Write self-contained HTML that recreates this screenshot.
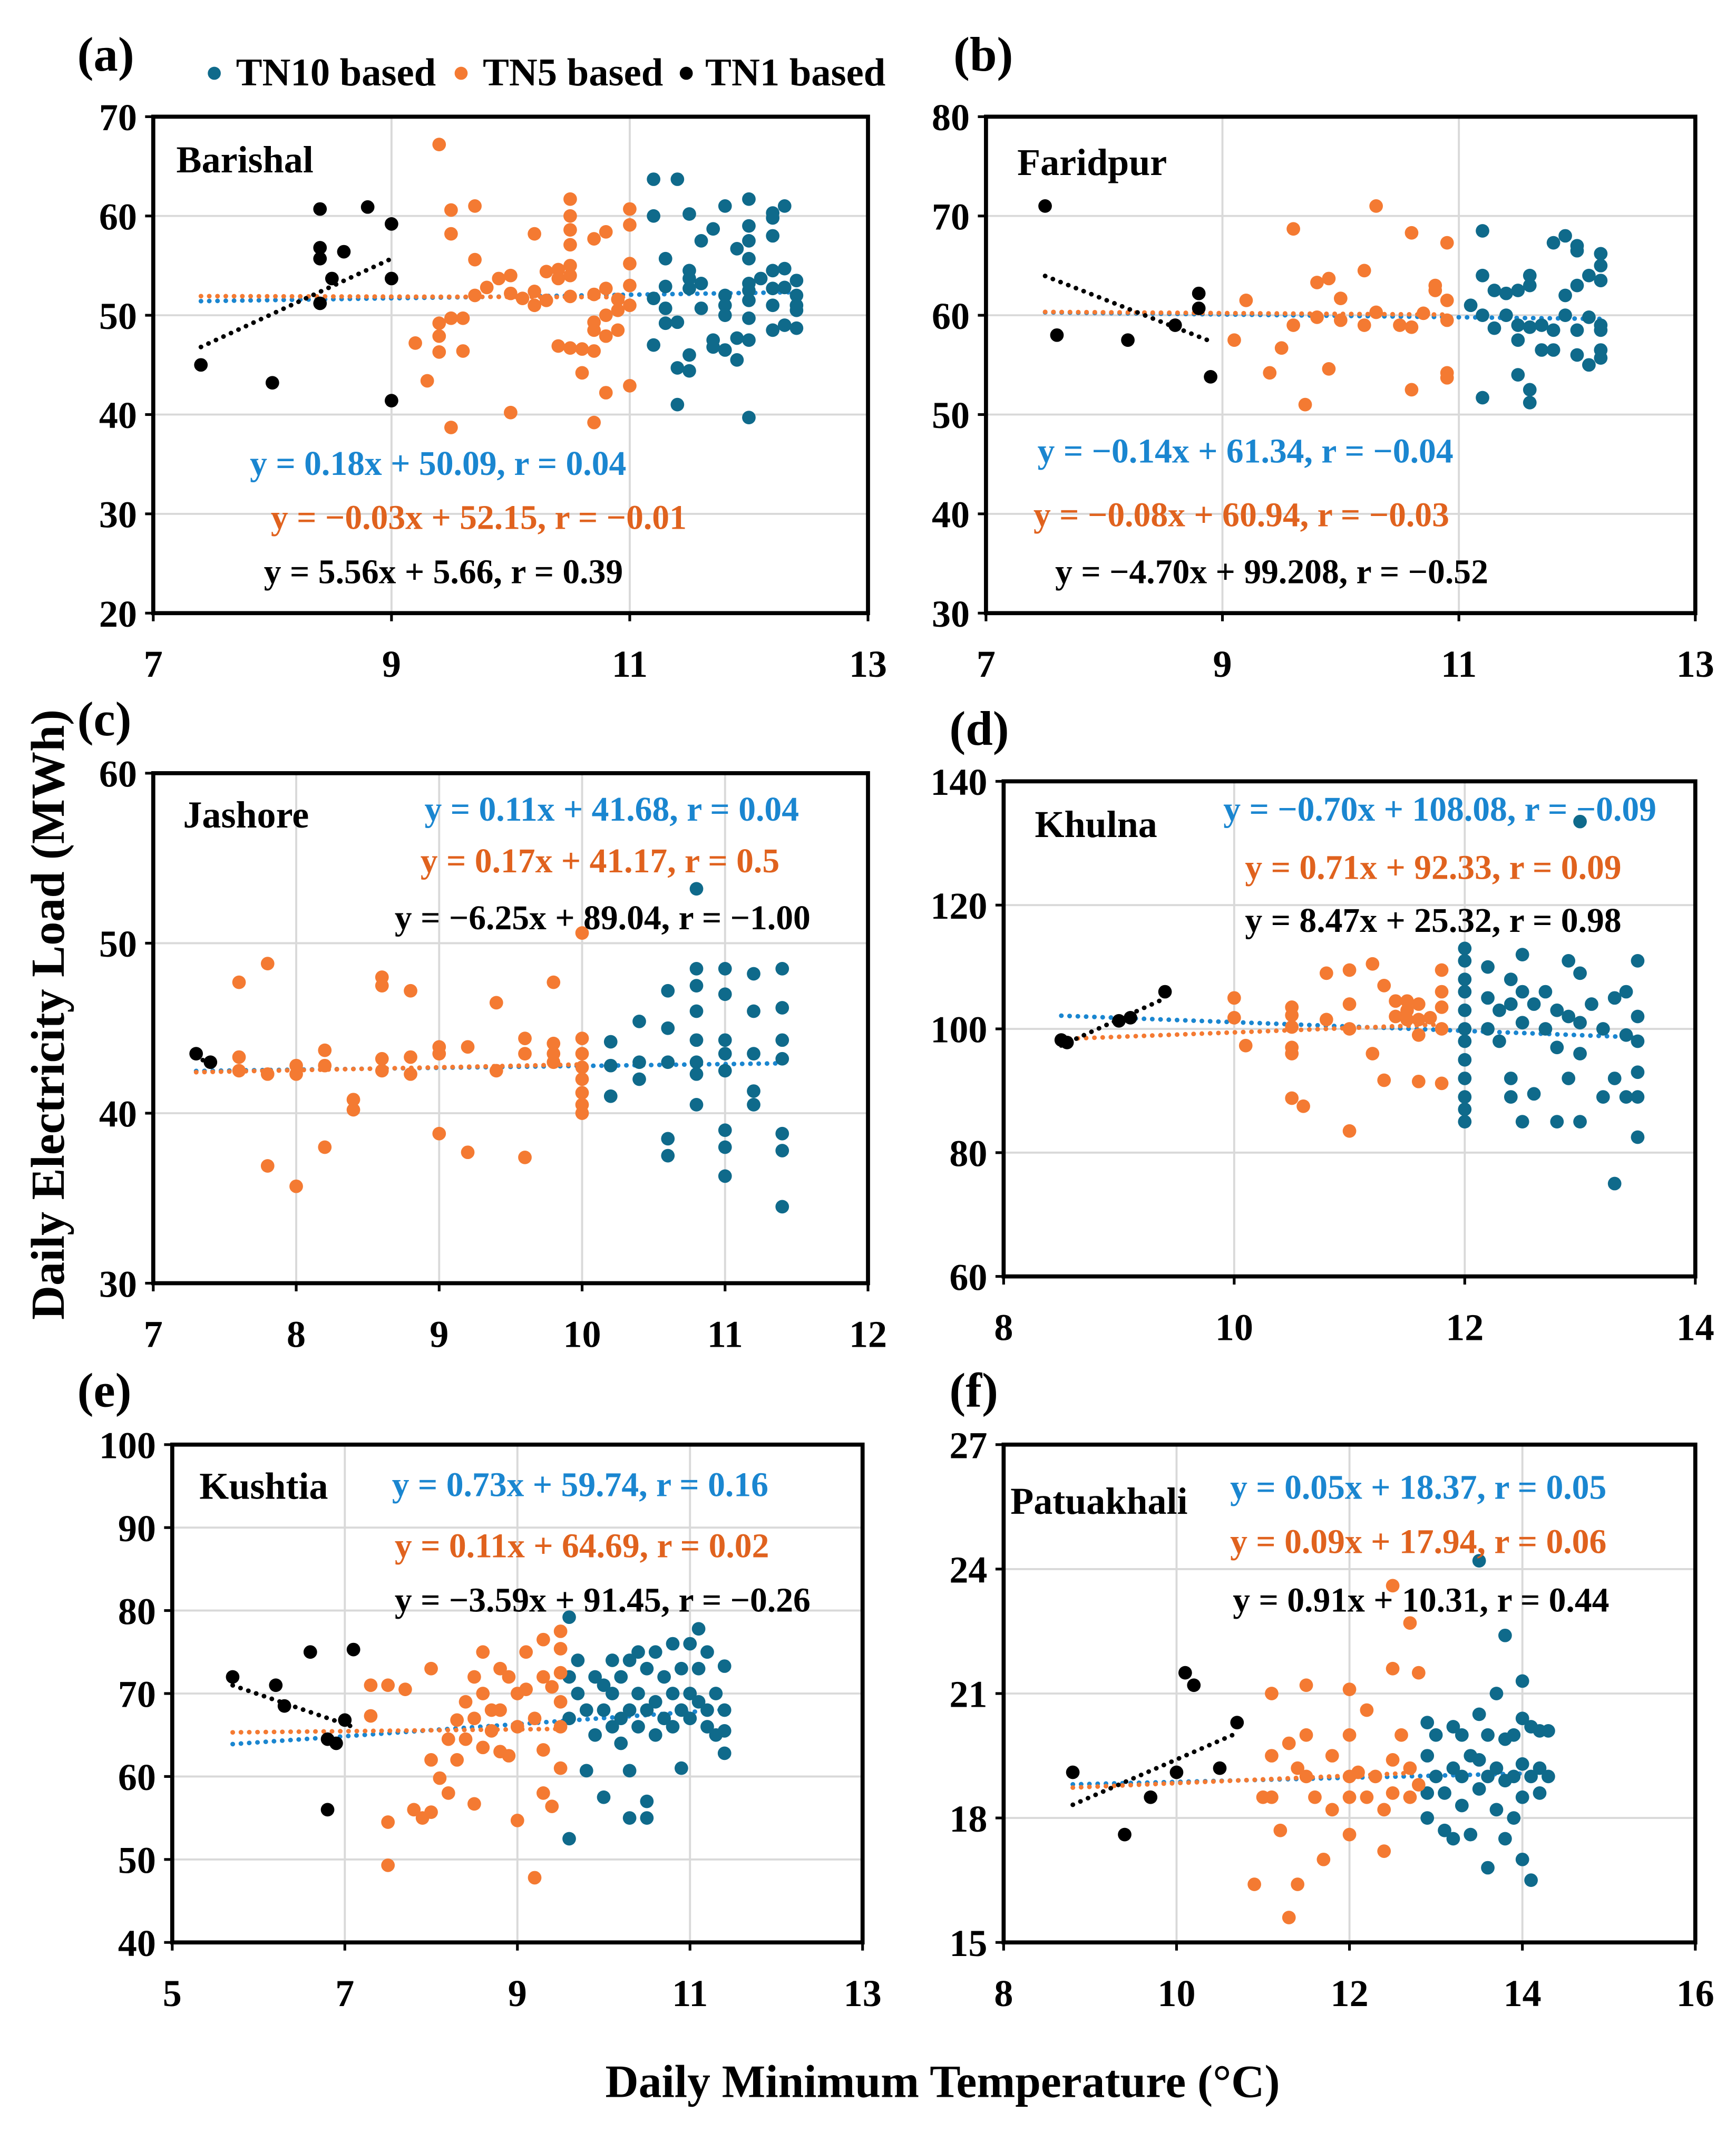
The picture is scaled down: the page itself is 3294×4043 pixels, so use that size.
<!DOCTYPE html>
<html><head><meta charset="utf-8"><style>
html,body{margin:0;padding:0;background:#fff}
svg{display:block}
text{font-family:"Liberation Serif",serif;font-weight:bold}
</style></head><body>
<svg id="fig" xmlns="http://www.w3.org/2000/svg" width="3294" height="4043" viewBox="0 0 1280 1571">
<rect width="1280" height="1571" fill="#fff"/>
<g>
<circle cx="158" cy="54" r="4.8" fill="#0f6a8b"/><text x="174" y="63" font-size="29">TN10 based</text>
<circle cx="340" cy="54" r="4.8" fill="#f47a32"/><text x="356" y="63" font-size="29">TN5 based</text>
<circle cx="506" cy="54" r="4.8" fill="#000"/><text x="520" y="63" font-size="29">TN1 based</text>
</g>
<text font-size="35" text-anchor="middle" transform="translate(47,748) rotate(-90)">Daily Electricity Load (MWh)</text>
<text font-size="34" x="695" y="1546" text-anchor="middle">Daily Minimum Temperature (°C)</text>
</svg>
<script>
// ---- data ----
const aTN1=[[7.4,45],[8.0,43.2],[8.4,60.7],[8.4,56.8],[8.4,55.7],[8.4,51.2],[8.5,53.7],[8.6,56.4],[8.8,60.9],[9.0,59.2],[9.0,53.7],[9.0,41.4]];
const aTN5=[[9.2,47.2],[9.3,43.4],[9.4,67.2],[9.4,49.2],[9.4,47.9],[9.4,46.3],[9.5,60.6],[9.5,58.2],[9.5,49.7],[9.5,38.7],[9.6,49.7],[9.6,46.4],[9.7,61],[9.7,55.6],[9.7,52],[9.8,52.8],[9.9,53.7],[10,54],[10,52.2],[10,40.2],[10.1,51.7],[10.2,58.2],[10.2,52.4],[10.2,51],[10.3,51.5],[10.3,54.4],[10.4,54.6],[10.4,53.7],[10.4,46.9],[10.5,61.7],[10.5,60],[10.5,58.6],[10.5,57.1],[10.5,55],[10.5,54],[10.5,51.9],[10.5,46.7],[10.6,46.6],[10.6,44.2],[10.7,57.7],[10.7,52.1],[10.7,49.3],[10.7,48.5],[10.7,46.4],[10.7,39.2],[10.8,58.4],[10.8,52.7],[10.8,50],[10.8,47.9],[10.8,42.2],[10.9,51.6],[10.9,50.5],[10.9,48.5],[11,60.7],[11,59.1],[11,55.2],[11,53],[11,51],[11,42.9]];
const aTN10=[[11.2,63.7],[11.2,60],[11.2,51.7],[11.2,47],[11.3,55.7],[11.3,52.9],[11.3,50.7],[11.3,49.2],[11.4,63.7],[11.4,49.3],[11.4,44.7],[11.4,41],[11.5,60.2],[11.5,54.5],[11.5,53.7],[11.5,52.7],[11.5,46],[11.5,44.4],[11.6,57.5],[11.6,53.2],[11.6,50.7],[11.7,58.7],[11.7,47.5],[11.7,46.8],[11.8,61],[11.8,52],[11.8,51],[11.8,50],[11.8,46.5],[11.9,56.7],[11.9,47.7],[11.9,45.5],[12,61.7],[12,59],[12,57.5],[12,55.7],[12,53.2],[12,52.5],[12,51.5],[12,49.7],[12,47.5],[12,39.7],[12.1,53.7],[12.2,60.3],[12.2,59.8],[12.2,58],[12.2,54.5],[12.2,52.7],[12.2,51],[12.2,48.5],[12.3,61],[12.3,54.7],[12.3,52.8],[12.3,49],[12.4,53.5],[12.4,52],[12.4,51],[12.4,50.5],[12.4,48.7]];
const bTN1=[[7.5,71],[7.6,58],[8.2,57.5],[8.6,59],[8.8,62.2],[8.8,60.7],[8.9,53.8]];
const bTN5=[[9.1,57.5],[9.2,61.5],[9.4,54.2],[9.5,56.7],[9.6,68.7],[9.6,59],[9.7,51],[9.8,63.3],[9.8,59.8],[9.9,63.7],[9.9,54.6],[10,61.7],[10,59.5],[10.2,64.5],[10.2,59],[10.3,71],[10.3,60.3],[10.5,59],[10.6,68.3],[10.6,58.8],[10.6,52.5],[10.7,60.2],[10.8,63],[10.8,62.5],[10.9,67.3],[10.9,61.5],[10.9,59.5],[10.9,54.2],[10.9,53.7]];
const bTN10=[[11.1,61],[11.2,68.5],[11.2,64],[11.2,60],[11.2,51.7],[11.3,62.5],[11.3,58.7],[11.4,62.2],[11.4,60],[11.5,62.5],[11.5,59],[11.5,57.5],[11.5,54],[11.6,64],[11.6,63],[11.6,58.8],[11.6,52.5],[11.6,51.2],[11.7,59],[11.7,56.5],[11.8,67.3],[11.8,58.5],[11.8,56.5],[11.9,68],[11.9,62],[11.9,60],[12,67],[12,66.5],[12,63],[12,58.5],[12,56],[12.1,64],[12.1,59.8],[12.1,55],[12.2,66.2],[12.2,65],[12.2,63.5],[12.2,59],[12.2,58.5],[12.2,56.5],[12.2,55.7]];
const cTN1=[[7.3,43.5],[7.4,43]];
const cTN5=[[7.6,47.7],[7.6,43.3],[7.6,42.5],[7.8,48.8],[7.8,42.3],[7.8,36.9],[8,42.8],[8,42.3],[8,35.7],[8.2,43.7],[8.2,42.8],[8.2,38],[8.4,40.8],[8.4,40.2],[8.6,48],[8.6,47.5],[8.6,43.2],[8.6,42.5],[8.8,47.2],[8.8,43.3],[8.8,42.3],[9,43.9],[9,43.5],[9,38.8],[9.2,43.9],[9.2,37.7],[9.4,46.5],[9.4,42.5],[9.6,44.4],[9.6,43.5],[9.6,37.4],[9.8,47.7],[9.8,44.1],[9.8,43.5],[9.8,43],[10,50.6],[10,44.4],[10,43.5],[10,42.7],[10,42],[10,41.2],[10,40.5],[10,40]];
const cTN10=[[10.2,44.2],[10.2,42.8],[10.2,41],[10.4,45.4],[10.4,43],[10.4,42],[10.6,47.2],[10.6,45],[10.6,43],[10.6,38.5],[10.6,37.5],[10.8,53.2],[10.8,48.5],[10.8,47.5],[10.8,46],[10.8,44.3],[10.8,43],[10.8,42.3],[10.8,40.5],[11,48.5],[11,47],[11,44.3],[11,43.5],[11,42.5],[11,39],[11,38],[11,36.3],[11.2,48.2],[11.2,46],[11.2,43.5],[11.2,41.3],[11.2,40.5],[11.4,48.5],[11.4,46.2],[11.4,44.3],[11.4,43.2],[11.4,38.8],[11.4,37.8],[11.4,34.5]];
const dTN1=[[8.5,98.2],[8.55,97.8],[9,101.3],[9.1,101.8],[9.4,106]];
const dTN5=[[10,105],[10,101.8],[10.1,97.3],[10.5,103.5],[10.5,102.2],[10.5,100.3],[10.5,97],[10.5,96],[10.5,88.8],[10.6,87.5],[10.8,109],[10.8,101.5],[11,109.5],[11,104],[11,100],[11,83.5],[11.2,110.5],[11.2,96],[11.3,107],[11.3,91.7],[11.4,104.5],[11.4,102],[11.5,104.5],[11.5,103],[11.5,101.5],[11.6,104],[11.6,101.5],[11.6,99],[11.6,91.5],[11.7,101.8],[11.8,109.5],[11.8,106],[11.8,103.5],[11.8,100],[11.8,91.2]];
const dTN10=[[12,113],[12,111],[12,108],[12,106],[12,103],[12,100],[12,98],[12,95],[12,92],[12,89],[12,87],[12,85],[12.2,110],[12.2,105],[12.2,100],[12.3,103],[12.3,98],[12.4,108],[12.4,104],[12.4,92],[12.4,89],[12.5,112],[12.5,106],[12.5,101],[12.5,85],[12.6,104],[12.6,89.5],[12.7,106],[12.7,100],[12.8,103],[12.8,97],[12.8,85],[12.9,111],[12.9,102],[12.9,92],[13,133.5],[13,109],[13,101],[13,96],[13,85],[13.1,104],[13.2,100],[13.2,89],[13.3,105],[13.3,92],[13.3,75],[13.4,106],[13.4,99],[13.4,89],[13.5,111],[13.5,102],[13.5,98],[13.5,93],[13.5,89],[13.5,82.5]];
const eTN1=[[5.7,72],[6.2,71],[6.3,68.5],[6.6,75],[6.8,56],[6.8,64.5],[6.9,64],[7,66.8],[7.1,75.3]];
const eTN5=[[7.3,71],[7.3,67.3],[7.5,71],[7.5,54.5],[7.5,49.3],[7.7,70.5],[7.8,56],[7.9,55],[8,73],[8,62],[8,55.7],[8.1,59.8],[8.2,64.5],[8.2,58],[8.3,66.8],[8.3,62],[8.4,69],[8.4,64.5],[8.5,72],[8.5,67],[8.5,56.7],[8.6,75],[8.6,70],[8.6,63.5],[8.7,68],[8.7,65.5],[8.8,73],[8.8,68],[8.8,63],[8.9,72],[8.9,62.5],[9,70],[9,66],[9,54.7],[9.1,75],[9.1,70.5],[9.2,67],[9.2,47.8],[9.3,76.5],[9.3,72],[9.3,58],[9.3,63.2],[9.4,56.4],[9.4,70.8],[9.5,77.5],[9.5,75.4],[9.5,72.5],[9.5,69],[9.5,66],[9.5,61]];
const eTN10=[[9.6,79.2],[9.6,72],[9.6,67],[9.6,52.5],[9.7,74],[9.7,70],[9.8,68],[9.8,60.7],[9.9,72],[9.9,65],[10,71],[10,68],[10,57.5],[10.1,74],[10.1,70],[10.1,66],[10.2,72],[10.2,67],[10.2,64],[10.3,74],[10.3,68],[10.3,55],[10.3,60.7],[10.4,75],[10.4,70],[10.4,66],[10.5,73],[10.5,68],[10.5,57],[10.5,55],[10.6,75],[10.6,69],[10.6,65],[10.7,72],[10.7,67],[10.8,76],[10.8,70],[10.8,66],[10.9,73],[10.9,68],[10.9,61],[11,76],[11,70],[11,67],[11.1,77.8],[11.1,73],[11.1,69],[11.2,75],[11.2,68],[11.2,66],[11.3,70],[11.3,65],[11.4,73.3],[11.4,68],[11.4,65.5],[11.4,62.8]];
const fTN1=[[8.8,19.1],[9.4,17.6],[9.7,18.5],[10,19.1],[10.1,21.5],[10.2,21.2],[10.5,19.2],[10.7,20.3]];
const fTN5=[[10.9,16.4],[11,18.5],[11.1,21],[11.1,19.5],[11.1,18.5],[11.2,17.7],[11.3,15.6],[11.3,19.8],[11.4,16.4],[11.4,19.2],[11.5,21.2],[11.5,20],[11.5,19],[11.6,18.5],[11.7,17],[11.8,19.5],[11.8,18.2],[12,21.1],[12,20],[12,19],[12,18.5],[12,17.6],[12.1,19.1],[12.2,20.6],[12.2,18.5],[12.3,19],[12.4,17.2],[12.4,18.2],[12.5,23.6],[12.5,21.6],[12.5,19.4],[12.5,18.6],[12.6,20],[12.7,22.7],[12.7,19.2],[12.7,18.5],[12.8,21.5],[12.8,18.8]];
const fTN10=[[12.9,20.3],[12.9,19.5],[12.9,18.6],[12.9,18],[13,20],[13,19],[13.1,17.7],[13.1,18.6],[13.2,20.2],[13.2,19.2],[13.2,17.5],[13.3,20],[13.3,19],[13.3,18.3],[13.4,19.5],[13.4,17.6],[13.5,24.2],[13.5,20.5],[13.5,19.4],[13.5,18.7],[13.6,20],[13.6,19],[13.6,16.8],[13.7,21],[13.7,19.2],[13.7,18.2],[13.8,22.4],[13.8,19.9],[13.8,18.9],[13.8,17.5],[13.9,20],[13.9,19],[13.9,18],[14,21.3],[14,20.4],[14,19.3],[14,18.5],[14,17],[14.1,20.2],[14.1,19],[14.1,16.5],[14.2,20.1],[14.2,19.2],[14.2,18.6],[14.3,20.1],[14.3,19]];
// trend coefficients [slope, intercept] per panel: TN10, TN5, TN1
const slopes10=[0.18,-0.14,0.11,-0.70,0.73,0.05];
const inter10=[50.09,61.34,41.68,108.08,59.74,18.37];
const slopes5=[-0.03,-0.08,0.17,0.71,0.11,0.09];
const inter5=[52.15,60.94,41.17,92.33,64.69,17.94];
const slopes1=[5.56,-4.70,-6.25,8.47,-3.59,0.91];
const inter1=[5.66,99.208,89.04,25.32,91.45,10.31];
const eq10=["y = 0.18x + 50.09, r = 0.04","y = −0.14x + 61.34, r = −0.04","y = 0.11x + 41.68, r = 0.04","y = −0.70x + 108.08, r = −0.09","y = 0.73x + 59.74, r = 0.16","y = 0.05x + 18.37, r = 0.05"];
const eq5=["y = −0.03x + 52.15, r = −0.01","y = −0.08x + 60.94, r = −0.03","y = 0.17x + 41.17, r = 0.5","y = 0.71x + 92.33, r = 0.09","y = 0.11x + 64.69, r = 0.02","y = 0.09x + 17.94, r = 0.06"];
const eq1=["y = 5.56x + 5.66, r = 0.39","y = −4.70x + 99.208, r = −0.52","y  = −6.25x + 89.04, r = −1.00","y = 8.47x + 25.32, r = 0.98","y = −3.59x + 91.45, r = −0.26","y = 0.91x + 10.31, r = 0.44"];
const cities=["Barishal","Faridpur","Jashore","Khulna","Kushtia","Patuakhali"];
const letters=["(a)","(b)","(c)","(d)","(e)","(f)"];
const xTicks=[[7,9,11,13],[7,9,11,13],[7,8,9,10,11,12],[8,10,12,14],[5,7,9,11,13],[8,10,12,14,16]];
const yTicks=[[20,30,40,50,60,70],[30,40,50,60,70,80],[30,40,50,60],[60,80,100,120,140],[40,50,60,70,80,90,100],[15,18,21,24,27]];
const series=[[aTN10,aTN5,aTN1],[bTN10,bTN5,bTN1],[cTN10,cTN5,cTN1],[dTN10,dTN5,dTN1],[eTN10,eTN5,eTN1],[fTN10,fTN5,fTN1]];
// ---- layout ----
const L=[
 {x0:113,x1:640,y0:86,y1:452,lx:57,ly:52,cx:130,cy:127,ex:[323,353,327],ey:[350,390,430],anc:"middle"},
 {x0:727,x1:1250,y0:86,y1:452,lx:703,ly:52,cx:750,cy:129,ex:[765,762,778],ey:[341,388,430],anc:"start"},
 {x0:113,x1:640,y0:570,y1:946,lx:57,ly:542,cx:135,cy:610,ex:[313,310,291],ey:[605,643,685],anc:"start"},
 {x0:740,x1:1250,y0:576,y1:941,lx:700,ly:549,cx:763,cy:617,ex:[902,918,918],ey:[605,648,687],anc:"start"},
 {x0:127,x1:636,y0:1065,y1:1432,lx:57,ly:1037,cx:147,cy:1105,ex:[289,291,291],ey:[1103,1148,1188],anc:"start"},
 {x0:740,x1:1250,y0:1065,y1:1432,lx:700,ly:1037,cx:745,cy:1116,ex:[907,907,909],ey:[1105,1145,1188],anc:"start"}];
const ids=["a","b","c","d","e","f"];
const dotCol=["#0f6a8b","#f47a32","#000"];
const lineCol=["#1a86d0","#f47a32","#000"];
const txtCol=["#1a86d0","#e0621e","#000"];
const NS="http://www.w3.org/2000/svg";
const svg=document.getElementById('fig');
function mk(tag,attrs,parent){const e=document.createElementNS(NS,tag);for(const k in attrs)e.setAttribute(k,attrs[k]);parent.appendChild(e);return e;}
L.forEach((p,i)=>{
 const xt=xTicks[i],yt=yTicks[i];
 const xmin=xt[0],xmax=xt[xt.length-1],ymin=yt[0],ymax=yt[yt.length-1];
 const sx=v=>p.x0+(v-xmin)/(xmax-xmin)*(p.x1-p.x0);
 const sy=v=>p.y1-(v-ymin)/(ymax-ymin)*(p.y1-p.y0);
 const g=mk('g',{},svg);
 
 
 xt.slice(1,-1).forEach(v=>{const l=mk('line',{x1:sx(v),x2:sx(v),y1:p.y0,y2:p.y1,stroke:'#d9d9d9','stroke-width':1.5},g);});
 yt.slice(1,-1).forEach(v=>{const l=mk('line',{y1:sy(v),y2:sy(v),x1:p.x0,x2:p.x1,stroke:'#d9d9d9','stroke-width':1.5},g);});
 xt.forEach(v=>{const t=mk('text',{x:sx(v),y:p.y1+47,'font-size':28,'text-anchor':'middle'},g);t.textContent=v;
   mk('line',{x1:sx(v),x2:sx(v),y1:p.y1,y2:p.y1+6,stroke:'#000','stroke-width':2},g);});
 yt.forEach(v=>{const t=mk('text',{x:p.x0-12,y:sy(v)+10,'font-size':28,'text-anchor':'end'},g);t.textContent=v;
   mk('line',{x1:p.x0-6,x2:p.x0,y1:sy(v),y2:sy(v),stroke:'#000','stroke-width':2},g);});
 const S=series[i];
 const allMin=Math.min(...S.flat().map(d=>d[0]));
 const coefs=[[slopes10[i],inter10[i]],[slopes5[i],inter5[i]],[slopes1[i],inter1[i]]];
 [0,1,2].forEach(k=>{
   const xs=S[k].map(d=>d[0]);
   const a=k==2?Math.min(...xs):allMin, b=Math.max(...xs);
   const [m,c]=coefs[k];
   const l=mk('line',{x1:sx(a),y1:sy(m*a+c),x2:sx(b),y2:sy(m*b+c),stroke:lineCol[k],'stroke-width':3.4,'stroke-dasharray':'0.1 6','stroke-linecap':'round'},g);
   
   
 });
 [0,1,2].forEach(k=>{S[k].forEach(d=>{
   const c=mk('circle',{cx:sx(d[0]),cy:sy(d[1]),r:5,fill:dotCol[k]},g);
   
   
 });});
 const fr=mk('rect',{x:p.x0,y:p.y0,width:p.x1-p.x0,height:p.y1-p.y0,fill:'none',stroke:'#000','stroke-width':3},g);
 
 
 const lt=mk('text',{x:p.lx,y:p.ly,'font-size':36},g);lt.textContent=letters[i];
 
 
 const ct=mk('text',{x:p.cx,y:p.cy,'font-size':28},g);ct.textContent=cities[i];
 
 
 const eqs=[eq10[i],eq5[i],eq1[i]];
 [0,1,2].forEach(k=>{const t=mk('text',{x:p.ex[k],y:p.ey[k],'font-size':25.5,fill:txtCol[k],'text-anchor':p.anc},g);t.textContent=eqs[k];
   
   });
});
</script>
</body></html>
